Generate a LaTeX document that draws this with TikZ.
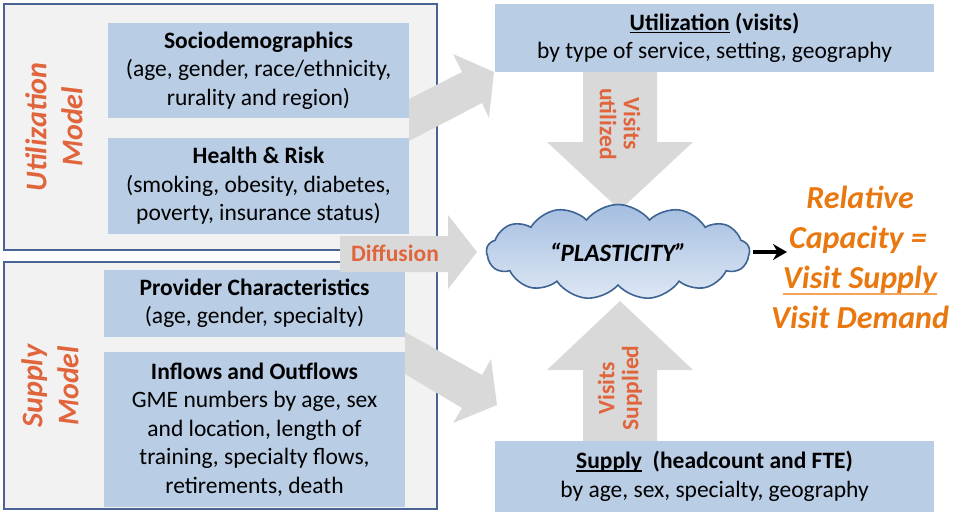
\documentclass[tikz,border=0pt]{standalone}
\usepackage{fontspec}
\setmainfont{Carlito}
\usetikzlibrary{shapes.symbols,arrows.meta}
\definecolor{boxblue}{HTML}{B9CDE5}
\definecolor{frameblue}{HTML}{4A6294}
\definecolor{framefill}{HTML}{F2F2F2}
\definecolor{arrgrey}{HTML}{D9D9D9}
\definecolor{labred}{HTML}{E0653C}
\definecolor{capor}{HTML}{E8780F}
\definecolor{ulor}{HTML}{F5A55A}
\definecolor{cloudtop}{HTML}{A5BEE0}
\definecolor{cloudbot}{HTML}{DDE7F4}
\definecolor{cloudline}{HTML}{3E6494}
\newcommand\myul[1]{\setbox0\hbox{#1}\rlap{\rule[-3pt]{\wd0}{1.6pt}}\box0\relax}
\tikzset{
  outerframe/.style={draw=frameblue,line width=2.6pt,fill=framefill},
  infobox/.style={fill=boxblue,inner sep=0pt,align=center,
    font=\fontsize{23.5}{28.5}\selectfont},
  modellabel/.style={text=labred,font=\fontsize{30}{36}\selectfont\bfseries\itshape,align=center,rotate=90},
  flowlabel/.style={text=labred,font=\fontsize{23.5}{24}\selectfont\bfseries,align=center},
  blockarrow/.style={fill=arrgrey,draw=none},
  capline/.style={text=capor,font=\fontsize{32}{40}\selectfont\bfseries\itshape,anchor=base,inner sep=0pt}
}
\begin{document}
\begin{tikzpicture}[x=1pt,y=-1pt]
\useasboundingbox (0,0) rectangle (957,514);
% outer frames
\draw[outerframe] (4,4) rectangle (437,250);
\draw[outerframe] (4,262) rectangle (437,509);
% diagonal block arrows (behind inner boxes)
\fill[blockarrow] (409,99) -- (462,72) -- (453,54) -- (494,72) -- (489,118) -- (482,103) -- (409,141) -- cycle;
\fill[blockarrow] (405,332) -- (482,375) -- (491,359) -- (497,405) -- (453,423) -- (462,408) -- (405,374) -- cycle;
% inner boxes
\node[infobox,minimum width=301pt,minimum height=95pt] (socio) at (258.5,70.5)
  {\textbf{Sociodemographics}\\(age, gender, race/ethnicity,\\rurality and region)};
\node[infobox,minimum width=301pt,minimum height=96pt] (health) at (258.5,186)
  {\textbf{Health \& Risk}\\(smoking, obesity, diabetes,\\poverty, insurance status)};
\node[infobox,minimum width=301pt,minimum height=67pt] (prov) at (254.5,303.5)
  {\textbf{Provider Characteristics}\\(age, gender, specialty)};
\node[infobox,minimum width=301pt,minimum height=155pt] (flows) at (254.5,429.5)
  {\textbf{Inflows and Outflows}\\GME numbers by age, sex\\and location, length of\\training, specialty flows,\\retirements, death};
% model labels
\node[modellabel] (umodel) at (54,127) {Utilization\\Model};
\node[modellabel] (smodel) at (50,386) {Supply\\Model};
% right boxes
\node[infobox,minimum width=439pt,minimum height=68pt] (util) at (714.5,38)
  {\textbf{\myul{Utilization} (visits)}\\by type of service, setting, geography};
\node[infobox,minimum width=439pt,minimum height=71pt] (supply) at (714.5,476.5)
  {\textbf{\myul{Supply}\ \ (headcount and FTE)}\\by age, sex, specialty, geography};
% vertical block arrows
\fill[blockarrow] (util.south -| 583,0) -- (583,142) -- (547,142) -- (620,210) -- (693,142) -- (657,142) -- (util.south -| 657,0) -- cycle;
\fill[blockarrow] (supply.north -| 583,0) -- (583,370) -- (547,370) -- (620,301) -- (693,370) -- (657,370) -- (supply.north -| 657,0) -- cycle;
\node[flowlabel,rotate=-90] (vu) at (620,124) {Visits\\utilized};
\node[flowlabel,rotate=90] (vs) at (620,388) {Visits\\Supplied};
% diffusion arrow
\fill[blockarrow] (340,236) -- (448,236) -- (448,215) -- (477,252) -- (448,289) -- (448,272) -- (340,272) -- cycle;
\node[flowlabel] (diff) at (395,253) {Diffusion};
% cloud
\node[cloud,cloud puffs=13,cloud puff arc=105,cloud ignores aspect,
  minimum width=263pt,minimum height=95pt,inner sep=0pt,
  draw=cloudline,line width=1.6pt,top color=cloudtop,bottom color=cloudbot,
  font=\fontsize{25}{28}\selectfont\bfseries\itshape] (cloud) at (618,252) {“PLASTICITY”};
\coordinate (capin) at (787,252);
\draw[line width=3.4pt,-{Stealth[length=14pt,width=16pt]}] (cloud.east |- capin) ++(3,0) -- (capin);
% relative capacity
\node[capline] (c1) at (860,208) {Relative};
\node[capline] (c2) at (858,248) {Capacity =};
\node[capline] (c3) at (860,288) {Visit Supply};
\node[capline] (c4) at (860,328) {Visit Demand};
\draw[ulor,line width=2pt] ([yshift=-6pt]c3.base west) -- ([yshift=-6pt]c3.base east);
\end{tikzpicture}
\end{document}
